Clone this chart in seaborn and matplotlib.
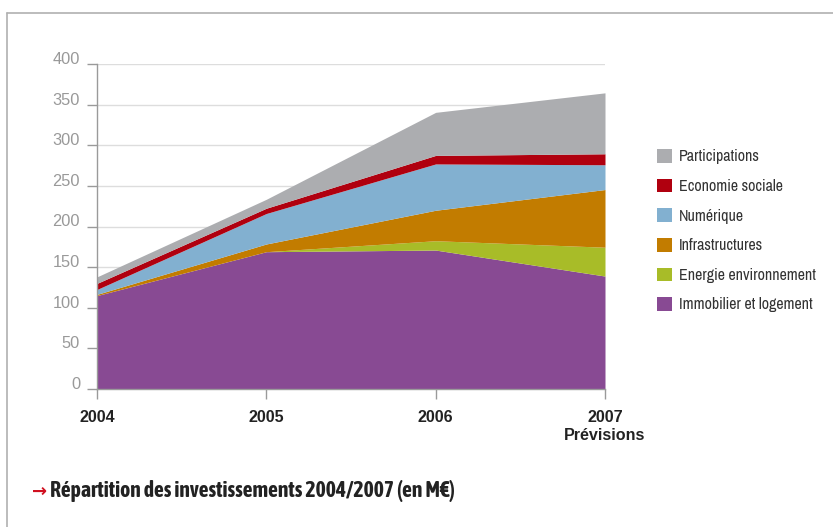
import matplotlib
matplotlib.use("Agg")
import matplotlib.pyplot as plt
from matplotlib.patches import Patch
from matplotlib.lines import Line2D
from matplotlib import font_manager as fm
import seaborn as sns

# ---- data ----
years = [2004, 2005, 2006, 2007]
year_labels = ["2004", "2005", "2006", "2007\nPrévisions"]
immobilier = [115, 169, 171, 139]
energie = [0, 0, 11.5, 35.5]
infrastructures = [1.5, 9.5, 37.5, 71]
numerique = [6, 37.5, 57, 30.5]
economie_sociale = [7.5, 6.5, 10.5, 13.5]
participations = [8, 11, 53, 75]
series_names = ["Immobilier et logement", "Energie environnement", "Infrastructures",
                "Numérique", "Economie sociale", "Participations"]
series_colors = ["#884A93", "#A8BC28", "#C27C00", "#82B0D0", "#B0000F", "#ACADB0"]
y_ticks = [0, 50, 100, 150, 200, 250, 300, 350, 400]
title = "Répartition des investissements 2004/2007 (en M€)"

sns.set_theme(style="white")


def _wnum(w):
    if isinstance(w, (int, float)):
        return w
    return {"bold": 700, "heavy": 800, "black": 900, "semibold": 600,
            "demibold": 600}.get(str(w).lower(), 400)


narrow_path = None
narrow_bold_path = None
for f in sorted(fm.fontManager.ttflist, key=lambda f: (f.name, f.fname)):
    n = f.name
    fname_l = f.fname.lower()
    if f.style != "normal" or "italic" in fname_l or "oblique" in fname_l:
        continue
    if "Narrow" in n or "Condensed" in n or f.stretch in ("condensed", "semi-condensed"):
        w = _wnum(f.weight)
        if narrow_path is None and 400 <= w <= 500:
            narrow_path = f.fname
        if narrow_bold_path is None and 600 <= w <= 800:
            narrow_bold_path = f.fname

plt.rcParams["font.family"] = ["Liberation Sans", "DejaVu Sans"]
if narrow_path:
    leg_prop = fm.FontProperties(fname=narrow_path, size=11.5)
else:
    leg_prop = fm.FontProperties(family="Liberation Sans", size=9.7)
if narrow_bold_path:
    title_prop = fm.FontProperties(fname=narrow_bold_path, size=15.6)
else:
    title_prop = fm.FontProperties(family="Liberation Sans", weight="bold", size=12.4)

W, H = 833, 527
fig = plt.figure(figsize=(W / 100, H / 100), dpi=100)
fig.patch.set_facecolor("white")


def fx(px):
    return px / W


def fy(py):
    return 1 - py / H


ax = fig.add_axes([fx(97), fy(389), fx(605) - fx(97), fy(64) - fy(389)])
ax.set_facecolor("none")

ax.stackplot(years, immobilier, energie, infrastructures, numerique,
             economie_sociale, participations, colors=series_colors,
             labels=series_names, linewidth=0, zorder=2)

ax.set_xlim(2004, 2007)
ax.set_ylim(0, 400)
ax.set_yticks(y_ticks)
ax.set_xticks(years)
ax.set_xticklabels(year_labels)
ax.grid(axis="y", color="#DDDDDD", linewidth=1, zorder=0)
ax.grid(axis="x", visible=False)
ax.set_axisbelow(True)

for s in ["top", "right"]:
    ax.spines[s].set_visible(False)
for s in ["left", "bottom"]:
    ax.spines[s].set_color("#9A9A9A")
    ax.spines[s].set_linewidth(1.0)
    ax.spines[s].set_zorder(3)

ax.tick_params(axis="both", direction="out", length=7.2, width=1.0, color="#9A9A9A",
               left=True, bottom=True)
ax.tick_params(axis="y", pad=5, labelsize=11.8, labelcolor="#999999")
ax.tick_params(axis="x", pad=8, labelsize=11.6)
for lab in ax.get_xticklabels():
    lab.set_fontweight("bold")
    lab.set_color("#222222")
    lab.set_linespacing(1.2)
for lab in ax.get_yticklabels():
    lab.set_verticalalignment("baseline")

# legend (top layer first)
handles = [Patch(facecolor=c, edgecolor="none") for c in series_colors[::-1]]
fs_px = leg_prop.get_size_in_points() * 100 / 72
leg = ax.legend(handles, series_names[::-1], loc="upper left",
                bbox_to_anchor=(fx(657), fy(149)), bbox_transform=fig.transFigure,
                frameon=False, borderpad=0, borderaxespad=0,
                handlelength=15 / fs_px, handleheight=15 / fs_px,
                handletextpad=7 / fs_px,
                labelspacing=14.3 / fs_px, prop=leg_prop)
for t in leg.get_texts():
    t.set_color("#333333")

# frame lines
fig.add_artist(Line2D([fx(7), fx(7)], [fy(13), 0], color="#B0B0B0", linewidth=1.2,
                      transform=fig.transFigure))
fig.add_artist(Line2D([fx(7), 1], [fy(13), fy(13)], color="#B0B0B0", linewidth=1.2,
                      transform=fig.transFigure))

# caption
fig.text(fx(32), fy(497), "→", color="#D01020", fontsize=13, fontweight="bold",
         family=["DejaVu Sans"], va="baseline", ha="left")
fig.text(fx(50), fy(497), title, color="#222222", fontproperties=title_prop,
         va="baseline", ha="left")

fig.savefig("out.png", dpi=100, facecolor="white")
